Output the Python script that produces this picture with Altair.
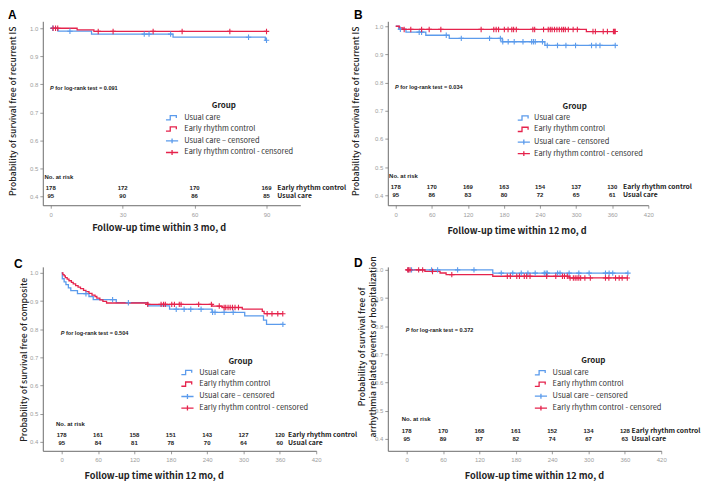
import altair as alt
import numpy as np
import pandas as pd

BLUE = "#5b9bec"
RED = "#e5234c"
TFONT = "Noto Sans CJK KR"
NFONT = "Liberation Sans"

GROUPS = ["Usual care", "Early rhythm control"]
LEGEND_LABELS = ["Usual care", "Early rhythm control",
                 "Usual care \u2013 censored", "Early rhythm control - censored"]
LEGEND_GROUPS = ["Usual care", "Early rhythm control", "Usual care", "Early rhythm control"]
LEGEND_KINDS = ["line", "line", "cens", "cens"]
LEGEND_TITLE = "Group"
RISK_HEADER = "No. at risk"
X_TITLE_3 = "Follow-up time within 3 mo, d"
X_TITLE_12 = "Follow-up time within 12 mo, d"

# ---------------- Panel A ----------------
A_uc_t = [0, 3, 17, 51, 89.5, 90]
A_uc_s = [1.0, 0.9895, 0.979, 0.968, 0.957, 0.957]
A_erc_t = [0, 11, 18, 90]
A_erc_s = [1.0, 0.9944, 0.9888, 0.9888]
A_uc_cens = [0.8, 8, 39, 41, 50, 82.5, 90]
A_erc_cens = [1.0, 2.0, 2.9, 19.8, 26, 42.7, 54.8, 74.7, 90]
A_risk_t = [0, 30, 60, 90]
A_risk_erc = [178, 172, 170, 169]
A_risk_uc = [95, 90, 86, 85]
A_p = "0.091"

# ---------------- Panel B ----------------
B_uc_t = [0, 5, 17, 50, 89, 177, 248, 365]
B_uc_s = [1.0, 0.9895, 0.979, 0.968, 0.957, 0.945, 0.932, 0.932]
B_erc_t = [0, 6, 12, 317, 365]
B_erc_s = [1.0, 0.9944, 0.9888, 0.9812, 0.9812]
B_uc_cens = [7.7, 39, 43, 84, 109, 156, 174, 178, 187, 197, 211.6, 226, 229, 232,
             244, 252, 269, 283, 299, 325.6, 333, 339.6, 365]
B_erc_cens = [14, 25, 43, 55.6, 75, 142, 163, 167, 171, 180.6, 186.8, 193, 196, 200.5,
              228, 231, 245.8, 253.6, 257, 260, 264, 268, 272, 276, 279, 282, 287, 295,
              302, 328, 332, 345, 352, 362, 364, 365]
B_risk_t = [0, 60, 120, 180, 240, 300, 360]
B_risk_erc = [178, 170, 169, 163, 154, 137, 130]
B_risk_uc = [95, 86, 83, 80, 72, 65, 61]
B_p = "0.034"

# ---------------- Panel C ----------------
C_uc_t = [0, 1, 4, 7, 11, 15, 26, 45, 52, 90, 142, 178, 248, 302, 333, 338, 365]
C_uc_s = [1.0, 0.979, 0.968, 0.958, 0.947, 0.937, 0.926, 0.916, 0.905, 0.894, 0.883,
          0.871, 0.860, 0.847, 0.832, 0.817, 0.817]
C_erc_t = [0, 2, 4, 6, 9, 12, 16, 19, 23, 27, 31, 36, 40, 45, 50, 55, 58, 63, 68, 74,
           142, 248, 265, 298, 331, 334, 365]
C_erc_s = [1.0, 0.994, 0.989, 0.983, 0.978, 0.972, 0.966, 0.961, 0.955, 0.949, 0.944,
           0.938, 0.933, 0.927, 0.921, 0.916, 0.910, 0.904, 0.899, 0.893, 0.888, 0.882,
           0.877, 0.871, 0.863, 0.855, 0.855]
C_uc_cens = [40, 84, 110, 189, 202, 213, 230, 249, 253, 268, 283, 365]
C_erc_cens = [142, 164, 168, 171, 181.6, 186, 194, 197, 226, 247, 260, 268, 270.7, 274.5,
              278, 281.8, 286, 291.7, 339, 347, 356.6, 364.8]
C_risk_t = [0, 60, 120, 180, 240, 300, 360]
C_risk_erc = [178, 161, 158, 151, 143, 127, 120]
C_risk_uc = [95, 84, 81, 78, 70, 64, 60]
C_p = "0.504"

# ---------------- Panel D ----------------
D_uc_t = [0, 142, 365]
D_uc_s = [1.0, 0.9885, 0.9885]
D_erc_t = [0, 30, 55, 65, 142, 268, 365]
D_erc_s = [1.0, 0.9944, 0.9888, 0.9831, 0.9773, 0.9713, 0.9713]
D_uc_cens = [2.7, 8, 41, 51, 84, 111, 156, 175, 189, 200, 212, 227, 230, 232, 249, 253,
             268, 284, 301, 328, 334, 340, 365]
D_erc_cens = [1.6, 3.3, 5.5, 19.7, 26.3, 42.6, 74.4, 166, 171, 181.6, 186, 194, 198,
              203.5, 231, 246, 257, 260.3, 265, 269.6, 275, 278, 281, 284, 287, 294, 303,
              328, 333.6, 344.6, 350.6, 355.5, 364]
D_risk_t = [0, 60, 120, 180, 240, 300, 360]
D_risk_erc = [178, 170, 168, 161, 152, 134, 128]
D_risk_uc = [95, 89, 87, 82, 74, 67, 63]
D_p = "0.372"

# ---------------- layout (positions / sizes, not data) ----------------
H = 185
STEP_PATH = "M-1,0.35L-0.3,0.35L-0.3,-0.35L0.7,-0.35L0.7,0.05"
LEG_CROSS = "M-1,0L1,0M0,-0.4L0,0.4"
CENS_CROSS = "M0,-1L0,1M-1,0L1,0"
TICKS12 = [0, 60, 120, 180, 240, 300, 360, 420]

SPECS = [
    dict(letter="A", uc=(A_uc_t, A_uc_s, A_uc_cens), erc=(A_erc_t, A_erc_s, A_erc_cens),
         risk=(A_risk_t, A_risk_erc, A_risk_uc), p=A_p,
         ytitle="Probability of survival free of recurrent IS", xtitle=X_TITLE_3,
         width=259, xdom=[-3.32, 104.1], ydom=[0.368, 1.0249],
         xticks=[0, 30, 60, 90], xt=(116.5, 22), yt=(-30, 90), let=(-35, -11),
         hdr=(1.7, 157), erc_y=168, uc_y=175.7, lab_t=94.5, p_t=-0.3,
         leg_title=(72.2, 0.7206), leg_rows=[0.6805, 0.6404, 0.5978, 0.5563], icon_t=50.6, text_t=55.7),
    dict(letter="B", uc=(B_uc_t, B_uc_s, B_uc_cens), erc=(B_erc_t, B_erc_s, B_erc_cens),
         risk=(B_risk_t, B_risk_erc, B_risk_uc), p=B_p,
         ytitle="Probability of survival free of recurrent IS", xtitle=X_TITLE_12,
         width=262, xdom=[-13.2, 420], ydom=[0.3647, 1.0176],
         xticks=TICKS12, xt=(129.5, 25), yt=(-32, 90), let=(-34, -11),
         hdr=(1.3, 155.7), erc_y=167, uc_y=175, lab_t=378, p_t=-1.2,
         leg_title=(297.5, 0.713), leg_rows=[0.674, 0.634, 0.589, 0.548], icon_t=213, text_t=230),
    dict(letter="C", uc=(C_uc_t, C_uc_s, C_uc_cens), erc=(C_erc_t, C_erc_s, C_erc_cens),
         risk=(C_risk_t, C_risk_erc, C_risk_uc), p=C_p,
         ytitle="Probability of survival free of composite", xtitle=X_TITLE_12,
         width=275, xdom=[-31.2, 420], ydom=[0.3682, 1.0212],
         xticks=TICKS12, xt=(111.5, 25), yt=(-19.5, 93), let=(-29, -8),
         hdr=(13.3, 158), erc_y=169, uc_y=177.3, lab_t=373.6, p_t=-1.6,
         leg_title=(295, 0.685), leg_rows=[0.646, 0.605, 0.561, 0.52], icon_t=207.5, text_t=227),
    dict(letter="D", uc=(D_uc_t, D_uc_s, D_uc_cens), erc=(D_erc_t, D_erc_s, D_erc_cens),
         risk=(D_risk_t, D_risk_erc, D_risk_uc), p=D_p,
         ytitle=["Probability of survival free of", "arrhythmia related events or hospitalization"],
         xtitle=X_TITLE_12,
         width=275, xdom=[-31.2, 420], ydom=[0.3576, 1.0106],
         xticks=TICKS12, xt=(147, 25), yt=(-26, 80), let=(-34, -9),
         hdr=(14, 153), erc_y=165.3, uc_y=173, lab_t=371, p_t=-1.6,
         leg_title=(308, 0.676), leg_rows=[0.635, 0.594, 0.5515, 0.509], icon_t=221.5, text_t=240.7),
]


def curve_frame(ts, ss, grp):
    return pd.DataFrame({"t": ts, "v": ss, "grp": grp})


def cens_frame(ct, ts, ss, grp):
    ts = np.asarray(ts, dtype=float)
    ss = np.asarray(ss, dtype=float)
    idx = np.searchsorted(ts, np.asarray(ct, dtype=float), side="right") - 1
    return pd.DataFrame({"t": ct, "v": ss[idx], "grp": grp})


def panel(s):
    xs = alt.Scale(domain=s["xdom"], nice=False, zero=False)
    ys = alt.Scale(domain=s["ydom"], nice=False, zero=False)
    xax = alt.Axis(values=s["xticks"], title=s["xtitle"], titleX=s["xt"][0], titleY=s["xt"][1],
                   titleAlign="center", titleBaseline="middle", titleFont=TFONT, titleFontSize=9.2,
                   titleFontWeight="bold", titleColor="#222222", labelFont=NFONT, labelFontSize=6,
                   labelColor="#9d9d9d", labelFlush=False, labelOverlap=False, labelPadding=3,
                   tickSize=3, tickColor="#9a9a9a", domainColor="#6b6b6b", grid=False)
    yax = alt.Axis(values=[0.4, 0.5, 0.6, 0.7, 0.8, 0.9, 1.0], format=".1f", title=s["ytitle"],
                   titleX=s["yt"][0], titleY=s["yt"][1], titleAngle=270, titleAlign="center",
                   titleBaseline="middle", titleFont=TFONT, titleFontSize=8.7, titleFontWeight=500,
                   titleColor="#222222", labelFont=NFONT, labelFontSize=6, labelColor="#9d9d9d",
                   labelFlush=False, labelOverlap=False, labelPadding=2, tickSize=3,
                   tickColor="#9a9a9a", domainColor="#6b6b6b", grid=False)
    X = alt.X("t:Q", scale=xs, axis=xax)
    Y = alt.Y("v:Q", scale=ys, axis=yax)
    C = alt.Color("grp:N", scale=alt.Scale(domain=GROUPS, range=[BLUE, RED]), legend=None)

    uc_t, uc_s, uc_c = s["uc"]
    erc_t, erc_s, erc_c = s["erc"]
    curves = pd.concat([curve_frame(uc_t, uc_s, GROUPS[0]), curve_frame(erc_t, erc_s, GROUPS[1])])
    cens = pd.concat([cens_frame(uc_c, uc_t, uc_s, GROUPS[0]), cens_frame(erc_c, erc_t, erc_s, GROUPS[1])])

    lines = alt.Chart(curves).mark_line(interpolate="step-after", strokeWidth=1.3).encode(x=X, y=Y, color=C)
    marks = alt.Chart(cens).mark_point(shape=CENS_CROSS, filled=False, size=30, strokeWidth=1.1,
                                       opacity=1).encode(x=X, y=Y, color=C)

    leg = pd.DataFrame({"label": LEGEND_LABELS, "grp": LEGEND_GROUPS, "kind": LEGEND_KINDS,
                        "v": s["leg_rows"]})
    leg_icons = leg.assign(t=s["icon_t"])
    leg_text = leg.assign(t=s["text_t"])
    icons = alt.Chart(leg_icons).mark_point(filled=False, size=150, strokeWidth=1.3, opacity=1).encode(
        x=X, y=Y, color=C,
        shape=alt.Shape("kind:N", scale=alt.Scale(domain=["line", "cens"], range=[STEP_PATH, LEG_CROSS]),
                        legend=None))
    texts = alt.Chart(leg_text).mark_text(align="left", baseline="middle", font=TFONT, fontSize=7.5,
                                          color="#333333").encode(x=X, y=Y, text="label:N")
    ltitle = alt.Chart(pd.DataFrame({"t": [s["leg_title"][0]], "v": [s["leg_title"][1]],
                                     "label": [LEGEND_TITLE]})).mark_text(
        align="center", baseline="middle", font=TFONT, fontSize=8, fontWeight="bold",
        color="#222222").encode(x=X, y=Y, text="label:N")

    pdf = pd.DataFrame({"t": [s["p_t"]], "v": [0.786], "a": ["P"],
                        "b": ["for log-rank test = " + s["p"]]})
    p1 = alt.Chart(pdf).mark_text(align="left", baseline="middle", font=NFONT, fontSize=5.6,
                                  fontWeight="bold", fontStyle="italic", color="#222222").encode(
        x=X, y=Y, text="a:N")
    p2 = alt.Chart(pdf).mark_text(align="left", baseline="middle", font=NFONT, fontSize=5.6,
                                  fontWeight="bold", color="#222222", dx=5.2).encode(
        x=X, y=Y, text="b:N")

    rt, rerc, ruc = s["risk"]
    rdf = pd.DataFrame({"t": rt, "erc": rerc, "uc": ruc})
    r1 = alt.Chart(rdf).mark_text(baseline="middle", font=NFONT, fontSize=6, fontWeight="bold",
                                  color="#222222").encode(x=X, y=alt.value(s["erc_y"]), text="erc:Q")
    r2 = alt.Chart(rdf).mark_text(baseline="middle", font=NFONT, fontSize=6, fontWeight="bold",
                                  color="#222222").encode(x=X, y=alt.value(s["uc_y"]), text="uc:Q")
    hdr = alt.Chart(pd.DataFrame({"label": [RISK_HEADER]})).mark_text(
        align="left", baseline="middle", font=NFONT, fontSize=6, fontWeight="bold",
        color="#222222").encode(x=alt.value(s["hdr"][0]), y=alt.value(s["hdr"][1]), text="label:N")
    lab1 = alt.Chart(pd.DataFrame({"t": [s["lab_t"]], "label": [GROUPS[1]]})).mark_text(
        align="left", baseline="middle", font=TFONT, fontSize=6.8, fontWeight="bold",
        color="#222222").encode(x=X, y=alt.value(s["erc_y"]), text="label:N")
    lab2 = alt.Chart(pd.DataFrame({"t": [s["lab_t"]], "label": [GROUPS[0]]})).mark_text(
        align="left", baseline="middle", font=TFONT, fontSize=6.8, fontWeight="bold",
        color="#222222").encode(x=X, y=alt.value(s["uc_y"]), text="label:N")
    letter = alt.Chart(pd.DataFrame({"label": [s["letter"]]})).mark_text(
        align="left", baseline="top", font=NFONT, fontSize=12, fontWeight="bold",
        color="#000000").encode(x=alt.value(s["let"][0]), y=alt.value(s["let"][1]), text="label:N")

    return alt.layer(lines, marks, icons, texts, ltitle, p1, p2, r1, r2, hdr, lab1, lab2,
                     letter).properties(width=s["width"], height=H)


panels = [panel(s) for s in SPECS]
chart = alt.concat(*panels, columns=2, spacing={"row": 62, "column": 72}, bounds="flush",
                   align="all").properties(padding=0).configure_view(stroke=None)

chart.save("out.html", embed_options={"renderer": "svg", "actions": False})
